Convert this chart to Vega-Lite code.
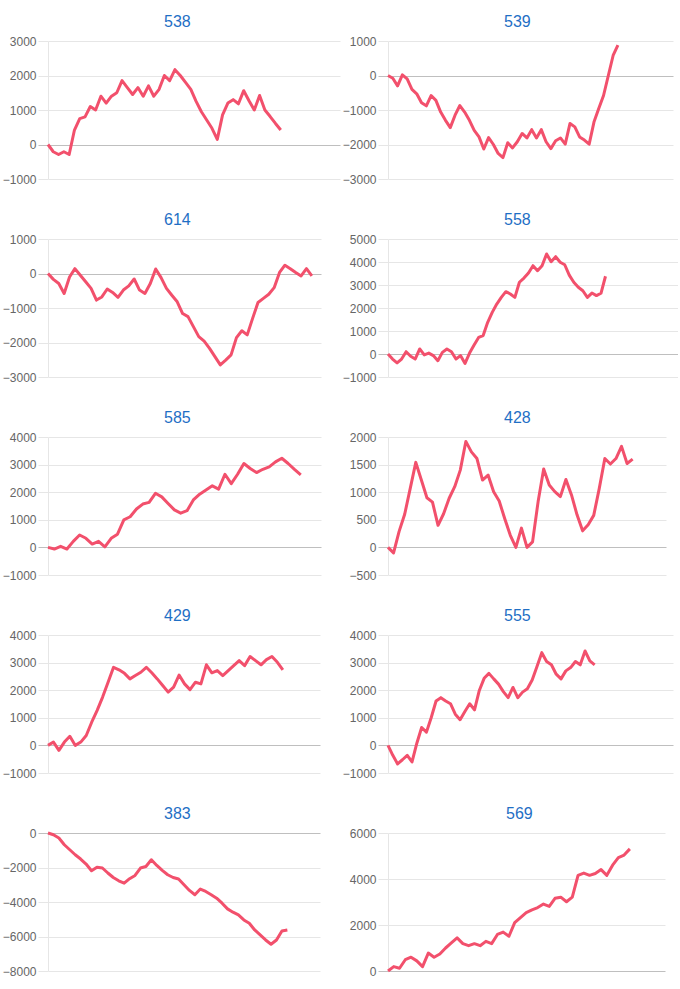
{
  "$schema": "https://vega.github.io/schema/vega-lite/v6.json",
  "padding": {"left": 2, "top": 14, "right": 0, "bottom": 0},
  "background": "white",
  "bounds": "flush",
  "columns": 2,
  "spacing": {"row": 60, "column": 48},
  "config": {
    "view": {"stroke": null},
    "axis": {
      "labelFont": "Liberation Sans",
      "labelFontSize": 12,
      "labelColor": "#666666",
      "gridColor": {"condition": {"test": "datum.value === 0", "value": "#bfbfbf"}, "value": "#e6e6e6"},
      "tickColor": {"condition": {"test": "datum.value === 0", "value": "#bfbfbf"}, "value": "#e6e6e6"},
      "domainColor": "#e6e6e6",
      "tickSize": 10,
      "labelPadding": 2,
      "title": null,
      "format": "d"
    },
    "title": {
      "font": "Liberation Sans",
      "fontSize": 16,
      "fontWeight": "normal",
      "color": "#1f6fc5",
      "anchor": "start",
      "frame": "group",
      "offset": 5
    },
    "line": {"color": "#f2506c", "strokeWidth": 3, "strokeJoin": "round"}
  },
  "datasets": {
    "p538": [{"i":0,"v":0},{"i":1,"v":-210},{"i":2,"v":-290},{"i":3,"v":-210},{"i":4,"v":-290},{"i":5,"v":420},{"i":6,"v":750},{"i":7,"v":800},{"i":8,"v":1100},{"i":9,"v":1000},{"i":10,"v":1400},{"i":11,"v":1200},{"i":12,"v":1400},{"i":13,"v":1500},{"i":14,"v":1850},{"i":15,"v":1650},{"i":16,"v":1450},{"i":17,"v":1650},{"i":18,"v":1400},{"i":19,"v":1700},{"i":20,"v":1400},{"i":21,"v":1600},{"i":22,"v":2000},{"i":23,"v":1850},{"i":24,"v":2170},{"i":25,"v":2000},{"i":26,"v":1800},{"i":27,"v":1600},{"i":28,"v":1250},{"i":29,"v":950},{"i":30,"v":710},{"i":31,"v":470},{"i":32,"v":150},{"i":33,"v":860},{"i":34,"v":1200},{"i":35,"v":1300},{"i":36,"v":1180},{"i":37,"v":1560},{"i":38,"v":1270},{"i":39,"v":1000},{"i":40,"v":1420},{"i":41,"v":1000},{"i":42,"v":810},{"i":43,"v":610},{"i":44,"v":420}],
    "p539": [{"i":0,"v":0},{"i":1,"v":-80},{"i":2,"v":-300},{"i":3,"v":20},{"i":4,"v":-100},{"i":5,"v":-400},{"i":6,"v":-530},{"i":7,"v":-790},{"i":8,"v":-880},{"i":9,"v":-580},{"i":10,"v":-720},{"i":11,"v":-1060},{"i":12,"v":-1300},{"i":13,"v":-1510},{"i":14,"v":-1150},{"i":15,"v":-870},{"i":16,"v":-1060},{"i":17,"v":-1300},{"i":18,"v":-1590},{"i":19,"v":-1780},{"i":20,"v":-2130},{"i":21,"v":-1800},{"i":22,"v":-2000},{"i":23,"v":-2260},{"i":24,"v":-2380},{"i":25,"v":-1950},{"i":26,"v":-2100},{"i":27,"v":-1920},{"i":28,"v":-1680},{"i":29,"v":-1810},{"i":30,"v":-1570},{"i":31,"v":-1810},{"i":32,"v":-1570},{"i":33,"v":-1920},{"i":34,"v":-2120},{"i":35,"v":-1890},{"i":36,"v":-1810},{"i":37,"v":-1990},{"i":38,"v":-1390},{"i":39,"v":-1490},{"i":40,"v":-1780},{"i":41,"v":-1870},{"i":42,"v":-1990},{"i":43,"v":-1350},{"i":44,"v":-960},{"i":45,"v":-580},{"i":46,"v":0},{"i":47,"v":580},{"i":48,"v":880}],
    "p614": [{"i":0,"v":0},{"i":1,"v":-170},{"i":2,"v":-290},{"i":3,"v":-580},{"i":4,"v":-100},{"i":5,"v":140},{"i":6,"v":-50},{"i":7,"v":-240},{"i":8,"v":-430},{"i":9,"v":-770},{"i":10,"v":-680},{"i":11,"v":-450},{"i":12,"v":-550},{"i":13,"v":-690},{"i":14,"v":-480},{"i":15,"v":-360},{"i":16,"v":-160},{"i":17,"v":-480},{"i":18,"v":-580},{"i":19,"v":-290},{"i":20,"v":130},{"i":21,"v":-120},{"i":22,"v":-430},{"i":23,"v":-630},{"i":24,"v":-820},{"i":25,"v":-1160},{"i":26,"v":-1250},{"i":27,"v":-1540},{"i":28,"v":-1830},{"i":29,"v":-1960},{"i":30,"v":-2170},{"i":31,"v":-2410},{"i":32,"v":-2650},{"i":33,"v":-2510},{"i":34,"v":-2360},{"i":35,"v":-1860},{"i":36,"v":-1660},{"i":37,"v":-1780},{"i":38,"v":-1300},{"i":39,"v":-840},{"i":40,"v":-720},{"i":41,"v":-600},{"i":42,"v":-410},{"i":43,"v":30},{"i":44,"v":240},{"i":45,"v":140},{"i":46,"v":30},{"i":47,"v":-70},{"i":48,"v":140},{"i":49,"v":-70}],
    "p558": [{"i":0,"v":0},{"i":1,"v":-220},{"i":2,"v":-390},{"i":3,"v":-220},{"i":4,"v":100},{"i":5,"v":-100},{"i":6,"v":-220},{"i":7,"v":220},{"i":8,"v":-40},{"i":9,"v":40},{"i":10,"v":-70},{"i":11,"v":-290},{"i":12,"v":70},{"i":13,"v":220},{"i":14,"v":100},{"i":15,"v":-220},{"i":16,"v":-70},{"i":17,"v":-410},{"i":18,"v":40},{"i":19,"v":390},{"i":20,"v":720},{"i":21,"v":800},{"i":22,"v":1380},{"i":23,"v":1810},{"i":24,"v":2170},{"i":25,"v":2460},{"i":26,"v":2710},{"i":27,"v":2610},{"i":28,"v":2460},{"i":29,"v":3120},{"i":30,"v":3300},{"i":31,"v":3520},{"i":32,"v":3840},{"i":33,"v":3620},{"i":34,"v":3840},{"i":35,"v":4350},{"i":36,"v":4010},{"i":37,"v":4230},{"i":38,"v":3990},{"i":39,"v":3880},{"i":40,"v":3430},{"i":41,"v":3120},{"i":42,"v":2900},{"i":43,"v":2750},{"i":44,"v":2460},{"i":45,"v":2650},{"i":46,"v":2540},{"i":47,"v":2640},{"i":48,"v":3380}],
    "p585": [{"i":0,"v":0},{"i":1,"v":-60},{"i":2,"v":40},{"i":3,"v":-60},{"i":4,"v":220},{"i":5,"v":450},{"i":6,"v":330},{"i":7,"v":120},{"i":8,"v":220},{"i":9,"v":20},{"i":10,"v":330},{"i":11,"v":480},{"i":12,"v":1000},{"i":13,"v":1110},{"i":14,"v":1390},{"i":15,"v":1570},{"i":16,"v":1630},{"i":17,"v":1960},{"i":18,"v":1830},{"i":19,"v":1590},{"i":20,"v":1360},{"i":21,"v":1240},{"i":22,"v":1330},{"i":23,"v":1720},{"i":24,"v":1930},{"i":25,"v":2080},{"i":26,"v":2230},{"i":27,"v":2110},{"i":28,"v":2650},{"i":29,"v":2310},{"i":30,"v":2650},{"i":31,"v":3040},{"i":32,"v":2860},{"i":33,"v":2710},{"i":34,"v":2830},{"i":35,"v":2920},{"i":36,"v":3100},{"i":37,"v":3230},{"i":38,"v":3040},{"i":39,"v":2830},{"i":40,"v":2630}],
    "p428": [{"i":0,"v":0},{"i":1,"v":-100},{"i":2,"v":290},{"i":3,"v":600},{"i":4,"v":1070},{"i":5,"v":1540},{"i":6,"v":1220},{"i":7,"v":900},{"i":8,"v":820},{"i":9,"v":400},{"i":10,"v":610},{"i":11,"v":890},{"i":12,"v":1100},{"i":13,"v":1400},{"i":14,"v":1920},{"i":15,"v":1730},{"i":16,"v":1610},{"i":17,"v":1220},{"i":18,"v":1310},{"i":19,"v":1010},{"i":20,"v":840},{"i":21,"v":520},{"i":22,"v":220},{"i":23,"v":0},{"i":24,"v":350},{"i":25,"v":0},{"i":26,"v":100},{"i":27,"v":830},{"i":28,"v":1420},{"i":29,"v":1130},{"i":30,"v":1010},{"i":31,"v":920},{"i":32,"v":1230},{"i":33,"v":950},{"i":34,"v":590},{"i":35,"v":300},{"i":36,"v":410},{"i":37,"v":580},{"i":38,"v":1070},{"i":39,"v":1610},{"i":40,"v":1510},{"i":41,"v":1610},{"i":42,"v":1830},{"i":43,"v":1520},{"i":44,"v":1600}],
    "p429": [{"i":0,"v":0},{"i":1,"v":120},{"i":2,"v":-180},{"i":3,"v":120},{"i":4,"v":330},{"i":5,"v":0},{"i":6,"v":120},{"i":7,"v":360},{"i":8,"v":840},{"i":9,"v":1270},{"i":10,"v":1750},{"i":11,"v":2290},{"i":12,"v":2830},{"i":13,"v":2740},{"i":14,"v":2610},{"i":15,"v":2410},{"i":16,"v":2530},{"i":17,"v":2650},{"i":18,"v":2830},{"i":19,"v":2630},{"i":20,"v":2410},{"i":21,"v":2170},{"i":22,"v":1930},{"i":23,"v":2110},{"i":24,"v":2550},{"i":25,"v":2230},{"i":26,"v":2020},{"i":27,"v":2290},{"i":28,"v":2230},{"i":29,"v":2920},{"i":30,"v":2630},{"i":31,"v":2710},{"i":32,"v":2530},{"i":33,"v":2710},{"i":34,"v":2890},{"i":35,"v":3070},{"i":36,"v":2890},{"i":37,"v":3220},{"i":38,"v":3070},{"i":39,"v":2920},{"i":40,"v":3110},{"i":41,"v":3220},{"i":42,"v":3010},{"i":43,"v":2740}],
    "p555": [{"i":0,"v":0},{"i":1,"v":-360},{"i":2,"v":-670},{"i":3,"v":-520},{"i":4,"v":-360},{"i":5,"v":-600},{"i":6,"v":80},{"i":7,"v":650},{"i":8,"v":480},{"i":9,"v":1010},{"i":10,"v":1610},{"i":11,"v":1730},{"i":12,"v":1610},{"i":13,"v":1510},{"i":14,"v":1130},{"i":15,"v":930},{"i":16,"v":1230},{"i":17,"v":1510},{"i":18,"v":1290},{"i":19,"v":1990},{"i":20,"v":2430},{"i":21,"v":2610},{"i":22,"v":2410},{"i":23,"v":2220},{"i":24,"v":1950},{"i":25,"v":1730},{"i":26,"v":2100},{"i":27,"v":1730},{"i":28,"v":1930},{"i":29,"v":2050},{"i":30,"v":2370},{"i":31,"v":2860},{"i":32,"v":3360},{"i":33,"v":3040},{"i":34,"v":2920},{"i":35,"v":2580},{"i":36,"v":2410},{"i":37,"v":2700},{"i":38,"v":2820},{"i":39,"v":3040},{"i":40,"v":2920},{"i":41,"v":3420},{"i":42,"v":3060},{"i":43,"v":2920}],
    "p383": [{"i":0,"v":0},{"i":1,"v":-100},{"i":2,"v":-290},{"i":3,"v":-680},{"i":4,"v":-970},{"i":5,"v":-1260},{"i":6,"v":-1510},{"i":7,"v":-1800},{"i":8,"v":-2190},{"i":9,"v":-1980},{"i":10,"v":-2030},{"i":11,"v":-2320},{"i":12,"v":-2580},{"i":13,"v":-2770},{"i":14,"v":-2910},{"i":15,"v":-2650},{"i":16,"v":-2460},{"i":17,"v":-2030},{"i":18,"v":-1940},{"i":19,"v":-1550},{"i":20,"v":-1880},{"i":21,"v":-2170},{"i":22,"v":-2420},{"i":23,"v":-2580},{"i":24,"v":-2670},{"i":25,"v":-3000},{"i":26,"v":-3330},{"i":27,"v":-3580},{"i":28,"v":-3250},{"i":29,"v":-3390},{"i":30,"v":-3580},{"i":31,"v":-3780},{"i":32,"v":-4070},{"i":33,"v":-4400},{"i":34,"v":-4590},{"i":35,"v":-4750},{"i":36,"v":-5040},{"i":37,"v":-5230},{"i":38,"v":-5620},{"i":39,"v":-5910},{"i":40,"v":-6200},{"i":41,"v":-6450},{"i":42,"v":-6200},{"i":43,"v":-5680},{"i":44,"v":-5620}],
    "p569": [{"i":0,"v":0},{"i":1,"v":190},{"i":2,"v":120},{"i":3,"v":490},{"i":4,"v":600},{"i":5,"v":440},{"i":6,"v":190},{"i":7,"v":780},{"i":8,"v":600},{"i":9,"v":740},{"i":10,"v":1000},{"i":11,"v":1220},{"i":12,"v":1440},{"i":13,"v":1190},{"i":14,"v":1100},{"i":15,"v":1190},{"i":16,"v":1100},{"i":17,"v":1290},{"i":18,"v":1190},{"i":19,"v":1590},{"i":20,"v":1690},{"i":21,"v":1510},{"i":22,"v":2100},{"i":23,"v":2320},{"i":24,"v":2540},{"i":25,"v":2660},{"i":26,"v":2760},{"i":27,"v":2910},{"i":28,"v":2810},{"i":29,"v":3160},{"i":30,"v":3210},{"i":31,"v":3010},{"i":32,"v":3210},{"i":33,"v":4160},{"i":34,"v":4260},{"i":35,"v":4160},{"i":36,"v":4240},{"i":37,"v":4410},{"i":38,"v":4160},{"i":39,"v":4600},{"i":40,"v":4930},{"i":41,"v":5040},{"i":42,"v":5310}]
  },
  "concat": [
    {"width": 292, "height": 138, "title": {"text": "538", "dx": 116}, "data": {"name": "p538"}, "mark": "line",
     "encoding": {"x": {"field": "i", "type": "quantitative", "scale": {"domain": [0, 55.2]}, "axis": null},
                  "y": {"field": "v", "type": "quantitative", "scale": {"domain": [-1000, 3000], "nice": false, "zero": false}, "axis": {"values": [-1000, 0, 1000, 2000, 3000]}}}},
    {"width": 285, "height": 138, "title": {"text": "539", "dx": 116}, "data": {"name": "p539"}, "mark": "line",
     "encoding": {"x": {"field": "i", "type": "quantitative", "scale": {"domain": [0, 59.5]}, "axis": null},
                  "y": {"field": "v", "type": "quantitative", "scale": {"domain": [-3000, 1000], "nice": false, "zero": false}, "axis": {"values": [-3000, -2000, -1000, 0, 1000]}}}},
    {"width": 273, "height": 138, "title": {"text": "614", "dx": 116}, "data": {"name": "p614"}, "mark": "line",
     "encoding": {"x": {"field": "i", "type": "quantitative", "scale": {"domain": [0, 50.7]}, "axis": null},
                  "y": {"field": "v", "type": "quantitative", "scale": {"domain": [-3000, 1000], "nice": false, "zero": false}, "axis": {"values": [-3000, -2000, -1000, 0, 1000]}}}},
    {"width": 290, "height": 138, "title": {"text": "558", "dx": 116}, "data": {"name": "p558"}, "mark": "line",
     "encoding": {"x": {"field": "i", "type": "quantitative", "scale": {"domain": [0, 64.0]}, "axis": null},
                  "y": {"field": "v", "type": "quantitative", "scale": {"domain": [-1000, 5000], "nice": false, "zero": false}, "axis": {"values": [-1000, 0, 1000, 2000, 3000, 4000, 5000]}}}},
    {"width": 273, "height": 138, "title": {"text": "585", "dx": 116}, "data": {"name": "p585"}, "mark": "line",
     "encoding": {"x": {"field": "i", "type": "quantitative", "scale": {"domain": [0, 43.2]}, "axis": null},
                  "y": {"field": "v", "type": "quantitative", "scale": {"domain": [-1000, 4000], "nice": false, "zero": false}, "axis": {"values": [-1000, 0, 1000, 2000, 3000, 4000]}}}},
    {"width": 278, "height": 138, "title": {"text": "428", "dx": 116}, "data": {"name": "p428"}, "mark": "line",
     "encoding": {"x": {"field": "i", "type": "quantitative", "scale": {"domain": [0, 50.0]}, "axis": null},
                  "y": {"field": "v", "type": "quantitative", "scale": {"domain": [-500, 2000], "nice": false, "zero": false}, "axis": {"values": [-500, 0, 500, 1000, 1500, 2000]}}}},
    {"width": 272, "height": 138, "title": {"text": "429", "dx": 116}, "data": {"name": "p429"}, "mark": "line",
     "encoding": {"x": {"field": "i", "type": "quantitative", "scale": {"domain": [0, 49.8]}, "axis": null},
                  "y": {"field": "v", "type": "quantitative", "scale": {"domain": [-1000, 4000], "nice": false, "zero": false}, "axis": {"values": [-1000, 0, 1000, 2000, 3000, 4000]}}}},
    {"width": 285, "height": 138, "title": {"text": "555", "dx": 116}, "data": {"name": "p555"}, "mark": "line",
     "encoding": {"x": {"field": "i", "type": "quantitative", "scale": {"domain": [0, 59.3]}, "axis": null},
                  "y": {"field": "v", "type": "quantitative", "scale": {"domain": [-1000, 4000], "nice": false, "zero": false}, "axis": {"values": [-1000, 0, 1000, 2000, 3000, 4000]}}}},
    {"width": 272, "height": 138, "title": {"text": "383", "dx": 116}, "data": {"name": "p383"}, "mark": "line",
     "encoding": {"x": {"field": "i", "type": "quantitative", "scale": {"domain": [0, 50.0]}, "axis": null},
                  "y": {"field": "v", "type": "quantitative", "scale": {"domain": [-8000, 0], "nice": false, "zero": false}, "axis": {"values": [-8000, -6000, -4000, -2000, 0]}}}},
    {"width": 277, "height": 138, "title": {"text": "569", "dx": 118}, "data": {"name": "p569"}, "mark": "line",
     "encoding": {"x": {"field": "i", "type": "quantitative", "scale": {"domain": [0, 48.1]}, "axis": null},
                  "y": {"field": "v", "type": "quantitative", "scale": {"domain": [0, 6000], "nice": false, "zero": false}, "axis": {"values": [0, 2000, 4000, 6000]}}}}
  ]
}
